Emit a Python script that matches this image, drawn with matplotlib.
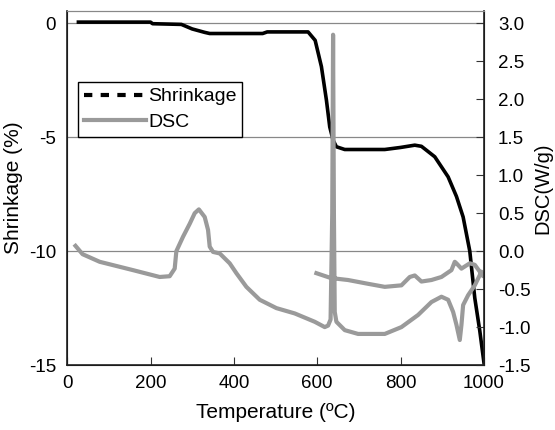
import matplotlib.pyplot as plt
from matplotlib.lines import Line2D

plt.rcParams['font.family'] = ['Liberation Sans', 'DejaVu Sans']
plt.rcParams['axes.unicode_minus'] = False

# shrinkage curve (%), left axis
shr_temp = [27, 100, 200, 205, 274, 300, 330, 342, 400, 469, 480, 578,
            595, 610, 622, 630, 638, 646, 666, 700, 762, 800, 834, 850,
            882, 914, 934, 950, 966, 978, 990, 1000]
shr_val = [0.05, 0.05, 0.05, -0.02, -0.05, -0.25, -0.4, -0.45, -0.45, -0.45, -0.38, -0.38,
           -0.75, -1.9, -3.37, -4.55, -5.13, -5.42, -5.54, -5.54, -5.54, -5.45, -5.35, -5.4,
           -5.86, -6.74, -7.6, -8.5, -10.0, -12.06, -13.5, -14.9]

# DSC curve (W/g), right axis: heating then cooling back
dsc_temp = [20, 37, 78, 158, 222, 246, 258, 262, 278, 294, 306, 316, 330, 338, 342,
            350, 366, 390, 406, 430, 462, 502, 546, 594, 618, 626, 632, 636, 638, 640,
            642, 646, 666, 698, 762, 802, 842, 874, 898, 914, 926, 934, 942, 946,
            950, 962, 978, 994, 998, 978, 966, 946, 934, 930, 922, 898, 874, 850,
            834, 822, 802, 762, 722, 674, 642, 638, 636, 598]
dsc_val = [0.07, -0.04, -0.14, -0.25, -0.34, -0.33, -0.23, 0.0, 0.19, 0.36, 0.5, 0.55, 0.45, 0.28, 0.06,
           -0.01, -0.03, -0.16, -0.29, -0.47, -0.64, -0.75, -0.82, -0.93, -1.0, -0.98, -0.9, 0.5, 2.85, 0.5,
           -0.8, -0.93, -1.04, -1.09, -1.09, -1.0, -0.84, -0.67, -0.6, -0.64, -0.8, -0.97, -1.17, -0.97,
           -0.71, -0.58, -0.45, -0.27, -0.33, -0.18, -0.16, -0.23, -0.16, -0.14, -0.25, -0.34, -0.38, -0.4,
           -0.32, -0.34, -0.45, -0.47, -0.43, -0.38, -0.36, -0.3, -0.36, -0.29]

fig = plt.figure(figsize=(5.55, 4.3), dpi=100)
ax = fig.add_axes([0.121, 0.151, 0.751, 0.823])
ax2 = ax.twinx()

ax.plot(shr_temp, shr_val, color='black', lw=2.6, zorder=3)
ax2.plot(dsc_temp, dsc_val, color='#9a9a9a', lw=3, zorder=2)

ax.set_xlim(0, 1000)
ax.set_ylim(-15, 0.53)
ax2.set_ylim(-1.5, 3.16)

ax.set_xticks([0, 200, 400, 600, 800, 1000])
ax.set_yticks([0, -5, -10, -15])
ax2.set_yticks([3.0, 2.5, 2.0, 1.5, 1.0, 0.5, 0.0, -0.5, -1.0, -1.5])
ax2.set_yticklabels(['%.1f' % v for v in ax2.get_yticks()])

for y in [0, -5, -10]:
    ax.axhline(y, color='#888888', lw=0.9, zorder=1)

ax.tick_params(axis='x', direction='in', length=6, labelsize=13.5, pad=7, color='#333333')
ax.tick_params(axis='y', length=0, labelsize=13.5, pad=8)
ax2.tick_params(axis='y', direction='in', length=6, labelsize=13.5, pad=10, color='#333333')

ax.spines['top'].set_color('#888888')
ax2.spines['top'].set_color('#888888')
for s in ['left', 'bottom', 'right']:
    ax2.spines[s].set_color('#222222')
    ax2.spines[s].set_linewidth(1.2)

ax.set_xlabel('Temperature (ºC)', fontsize=15, labelpad=8)
ax.set_ylabel('Shrinkage (%)', fontsize=15, labelpad=4)
ax2.set_ylabel('DSC(W/g)', fontsize=14.5, labelpad=2)

handles = [Line2D([], [], color='black', lw=3, ls=(0, (2, 2))),
           Line2D([], [], color='#9a9a9a', lw=3)]
leg = ax2.legend(handles, ['Shrinkage', 'DSC'], loc='upper left',
                 bbox_to_anchor=(0.026, 0.80), fontsize=14, frameon=True,
                 fancybox=False, edgecolor='black', framealpha=1,
                 handlelength=3.2, handletextpad=0.1, borderpad=0.3,
                 labelspacing=0.4, borderaxespad=0)
leg.get_frame().set_linewidth(1.0)

fig.savefig('out.png', dpi=100)
